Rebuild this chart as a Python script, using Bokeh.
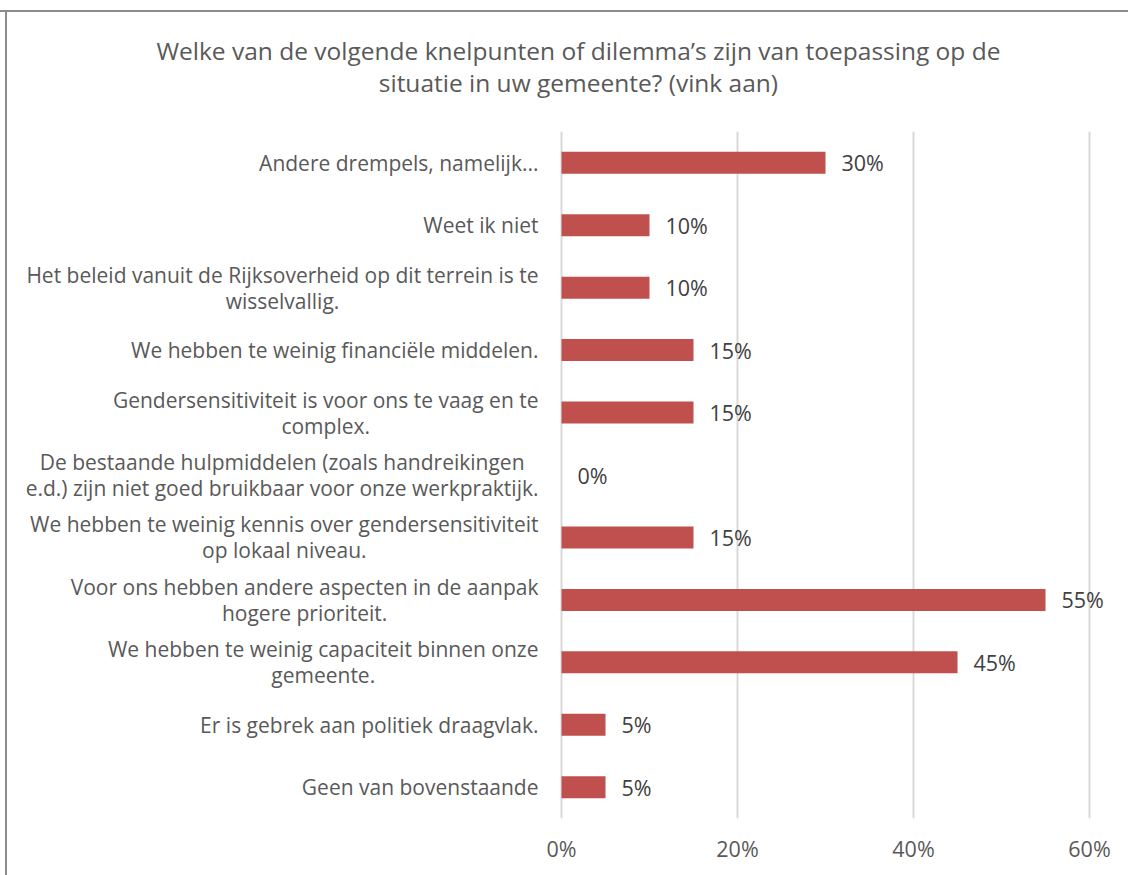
import os, glob, subprocess
from bokeh.plotting import figure
from bokeh.layouts import column
from bokeh.models import Range1d, FactorRange, FixedTicker, PrintfTickFormatter, ColumnDataSource
from bokeh.core.properties import value
from bokeh.embed import file_html
from bokeh.resources import INLINE

# ---------------- data ----------------
title_lines = [
    "Welke van de volgende knelpunten of dilemma’s zijn van toepassing op de",
    "situatie in uw gemeente? (vink aan)",
]
categories = [
    "Andere drempels, namelijk...",
    "Weet ik niet",
    "Het beleid vanuit de Rijksoverheid op dit terrein is te\nwisselvallig.",
    "We hebben te weinig financiële middelen.",
    "Gendersensitiviteit is voor ons te vaag en te\ncomplex.",
    "De bestaande hulpmiddelen (zoals handreikingen\ne.d.) zijn niet goed bruikbaar voor onze werkpraktijk.",
    "We hebben te weinig kennis over gendersensitiviteit\nop lokaal niveau.",
    "Voor ons hebben andere aspecten in de aanpak\nhogere prioriteit.",
    "We hebben te weinig capaciteit binnen onze\ngemeente.",
    "Er is gebrek aan politiek draagvlak.",
    "Geen van bovenstaande",
]
values = [30, 10, 10, 15, 15, 0, 15, 55, 45, 5, 5]
x_ticks = [0, 20, 40, 60]

# ---------------- styles ----------------
FONT = "Open Sans"
BAR = "#C0504D"
GRAY = "#595959"
DARK = "#404040"
EDGE = "#8C8C8C"
LBL_SIZE = 21
VAL_SIZE = "21.5px"
W = 1128
TITLE_H = 131
MAIN_H = 875 - TITLE_H


def _font_path():
    try:
        out = subprocess.run(["fc-match", "-f", "%{file}", "Open Sans:style=Regular"],
                             capture_output=True, text=True, timeout=5).stdout.strip()
        if out and os.path.exists(out) and "opensans" in out.lower().replace("_", "").replace("-", ""):
            return out
    except Exception:
        pass
    for pat in ["/usr/share/fonts/**/OpenSans-Regular.ttf", "/usr/share/fonts/**/OpenSans*.ttf",
                "/usr/local/share/fonts/**/OpenSans*.ttf"]:
        c = sorted(glob.glob(pat, recursive=True))
        if c:
            return c[0]
    return None


try:
    from PIL import ImageFont
    _fp = _font_path()
    _pil = ImageFont.truetype(_fp, LBL_SIZE) if _fp else None
except Exception:
    _pil = None


def text_w(s):
    if _pil is not None:
        return _pil.getlength(s)
    return 0.53 * LBL_SIZE * len(s)


# ---------------- title panel ----------------
t = figure(
    width=W, height=TITLE_H, x_range=Range1d(0, W), y_range=Range1d(TITLE_H, 0),
    x_axis_location=None, y_axis_location=None,
    output_backend="svg", toolbar_location=None,
    min_border_left=0, min_border_right=0, min_border_top=0, min_border_bottom=0,
    outline_line_color=None, background_fill_color=None, border_fill_color=None,
)
t.xgrid.visible = False
t.ygrid.visible = False
t.styles = {
    "background-color": "white",
    "background-image": f"linear-gradient({EDGE}, {EDGE}), linear-gradient({EDGE}, {EDGE})",
    "background-size": "100% 2px, 2px 100%",
    "background-position": "0px 10px, 5px 10px",
    "background-repeat": "no-repeat",
}
t.text(x=[574, 574], y=[50, 82], text=title_lines, text_align="center", text_baseline="middle",
       text_font=value(FONT), text_font_size="24.5px", text_color=GRAY)

# ---------------- main chart ----------------
p = figure(
    width=W, height=MAIN_H,
    x_range=Range1d(-62.84, 64.43),
    y_range=FactorRange(*reversed(categories)),
    y_axis_location=None,
    output_backend="svg", toolbar_location=None,
    min_border_left=8, min_border_right=0, min_border_top=0, min_border_bottom=57,
    outline_line_color=None, background_fill_color="white", border_fill_color=None,
)
p.styles = {
    "background-color": "white",
    "background-image": f"linear-gradient({EDGE}, {EDGE})",
    "background-size": "2px 100%",
    "background-position": "5px 0px",
    "background-repeat": "no-repeat",
}

p.hbar(y=categories, right=values, left=0, height=0.352, fill_color=BAR, line_color=None)

p.text(x=values, y=categories, text=[f"{v}%" for v in values],
       x_offset=16, text_align="left", text_baseline="middle",
       text_font=value(FONT), text_font_size=VAL_SIZE, text_color=DARK)

# category labels: block right-aligned at the axis, lines centred on each other
R_OFF = -23
LINE_GAP = 13
right_src = dict(x=[], y=[], text=[], xo=[], yo=[])
cent_src = dict(x=[], y=[], text=[], xo=[], yo=[])
for cat in categories:
    lines = cat.split("\n")
    widths = [text_w(l) for l in lines]
    wmax = max(widths)
    imax = widths.index(wmax)
    n = len(lines)
    for i, l in enumerate(lines):
        yo = (i - (n - 1) / 2) * 2 * LINE_GAP
        if i == imax:
            d = right_src
            xo = R_OFF
        else:
            d = cent_src
            xo = R_OFF - wmax / 2
        d["x"].append(0); d["y"].append(cat); d["text"].append(l)
        d["xo"].append(xo); d["yo"].append(yo)

p.text(x="x", y="y", text="text", x_offset="xo", y_offset="yo", source=ColumnDataSource(right_src),
       text_align="right", text_baseline="middle",
       text_font=value(FONT), text_font_size=f"{LBL_SIZE}px", text_color=GRAY)
p.text(x="x", y="y", text="text", x_offset="xo", y_offset="yo", source=ColumnDataSource(cent_src),
       text_align="center", text_baseline="middle",
       text_font=value(FONT), text_font_size=f"{LBL_SIZE}px", text_color=GRAY)

# axes & grid
ax = p.xaxis[0]
ax.ticker = FixedTicker(ticks=x_ticks)
ax.formatter = PrintfTickFormatter(format="%d%%")
ax.axis_line_color = None
ax.major_tick_line_color = None
ax.minor_tick_line_color = None
ax.major_tick_out = 0
ax.major_label_standoff = 15
ax.major_label_text_font = FONT
ax.major_label_text_font_size = VAL_SIZE
ax.major_label_text_color = GRAY
p.ygrid.grid_line_color = None
p.xgrid.ticker = FixedTicker(ticks=x_ticks)
p.xgrid.grid_line_color = "#D9D9D9"
p.xgrid.grid_line_width = 2

layout = column(t, p, spacing=0)
open("out.html", "w").write(file_html(layout, INLINE))
